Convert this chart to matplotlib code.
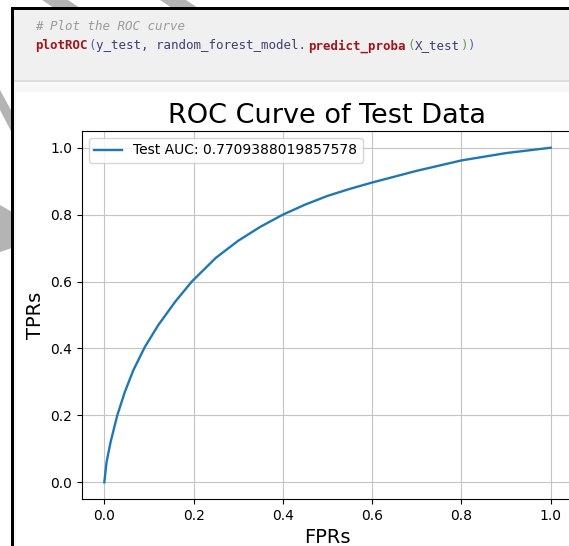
import matplotlib
matplotlib.use('Agg')
import matplotlib.pyplot as plt
from matplotlib.patches import Rectangle, Polygon

# ROC points
fpr = [0, 0.005, 0.014, 0.029, 0.046, 0.065, 0.091, 0.121, 0.159, 0.196, 0.25,
       0.30, 0.35, 0.40, 0.45, 0.50, 0.55, 0.60, 0.70, 0.80, 0.90, 1.0]
tpr = [0, 0.06, 0.12, 0.20, 0.27, 0.335, 0.405, 0.47, 0.54, 0.60, 0.671,
       0.722, 0.764, 0.80, 0.83, 0.856, 0.877, 0.896, 0.931, 0.962, 0.984, 1.0]
auc_label = 'Test AUC: 0.7709388019857578'
ticks = [0.0, 0.2, 0.4, 0.6, 0.8, 1.0]

# notebook cell text, split by colour
comment_line = '# Plot the ROC curve'
code_parts = [
    ('plotROC', '#a0161b', 'bold'),
    ('(', '#5a5ad0', 'normal'),
    ('y_test, random_forest_model.', '#3f3f70', 'normal'),
    ('predict_proba', '#a0161b', 'bold'),
    ('(', '#5f9a5f', 'normal'),
    ('X_test', '#3f3f70', 'normal'),
    (')', '#5f9a5f', 'normal'),
    (')', '#5a5ad0', 'normal'),
]

W, H = 569, 546
fig = plt.figure(figsize=(W / 100, H / 100), dpi=100)
fig.patch.set_facecolor('white')


def fx(px):
    return px / W


def fy(py):
    return 1 - py / H


def rect(x0, y0, x1, y1, **kw):
    fig.add_artist(Rectangle((fx(x0), fy(y1)), fx(x1) - fx(x0), fy(y0) - fy(y1),
                             transform=fig.transFigure, **kw))


def poly(pts, **kw):
    fig.add_artist(Polygon([(fx(x), fy(y)) for x, y in pts], closed=True,
                           transform=fig.transFigure, **kw))


# grey decorative stripes outside the frame
stripe = dict(facecolor='#b4b4b4', edgecolor='none', zorder=0)
poly([(42, 0), (68, 0), (80, 8), (54, 8)], **stripe)
poly([(160, 0), (186, 0), (198, 8), (172, 8)], **stripe)
poly([(0, 90), (0, 110), (12, 133), (12, 112)], **stripe)
poly([(0, 205), (0, 252), (12, 248), (12, 212)], **stripe)

# notebook cell
rect(12, 8, W, H, facecolor='#f7f7f7', edgecolor='none', zorder=0)
rect(12, 8, W, 80, facecolor='#f0f0f0', edgecolor='none', zorder=0)
rect(12, 80, W, 81.5, facecolor='#dcdcdc', edgecolor='none', zorder=0)
rect(16, 92, W, H, facecolor='white', edgecolor='none', zorder=0)
rect(11, 7, 14, H, facecolor='black', edgecolor='none', zorder=1)
rect(11, 7, W, 9.5, facecolor='black', edgecolor='none', zorder=1)

fig.text(fx(35), fy(27), comment_line, family='DejaVu Sans Mono', style='italic',
         color='#9a9a9a', fontsize=9, va='center')
cw = 7.6
pos = 0
for txt, col, wt in code_parts:
    fig.text(fx(35 + pos * cw), fy(46), txt, family='DejaVu Sans Mono',
             color=col, fontweight=wt, fontsize=9, va='center')
    pos += len(txt)

# ROC chart
ax = fig.add_axes([fx(82), fy(499), fx(573) - fx(82), fy(131) - fy(499)])
ax.plot(fpr, tpr, color='#1f77b4', linewidth=1.7, label=auc_label)
ax.set_xticks(ticks)
ax.set_yticks(ticks)
ax.tick_params(labelsize=10)
ax.grid(True, color='#c4c4c4')
ax.set_title('ROC Curve of Test Data', fontsize=19.5)
ax.set_xlabel('FPRs', fontsize=14)
ax.set_ylabel('TPRs', fontsize=14)
ax.legend(loc='upper left', fontsize=10)

fig.savefig('out.png', dpi=100)
